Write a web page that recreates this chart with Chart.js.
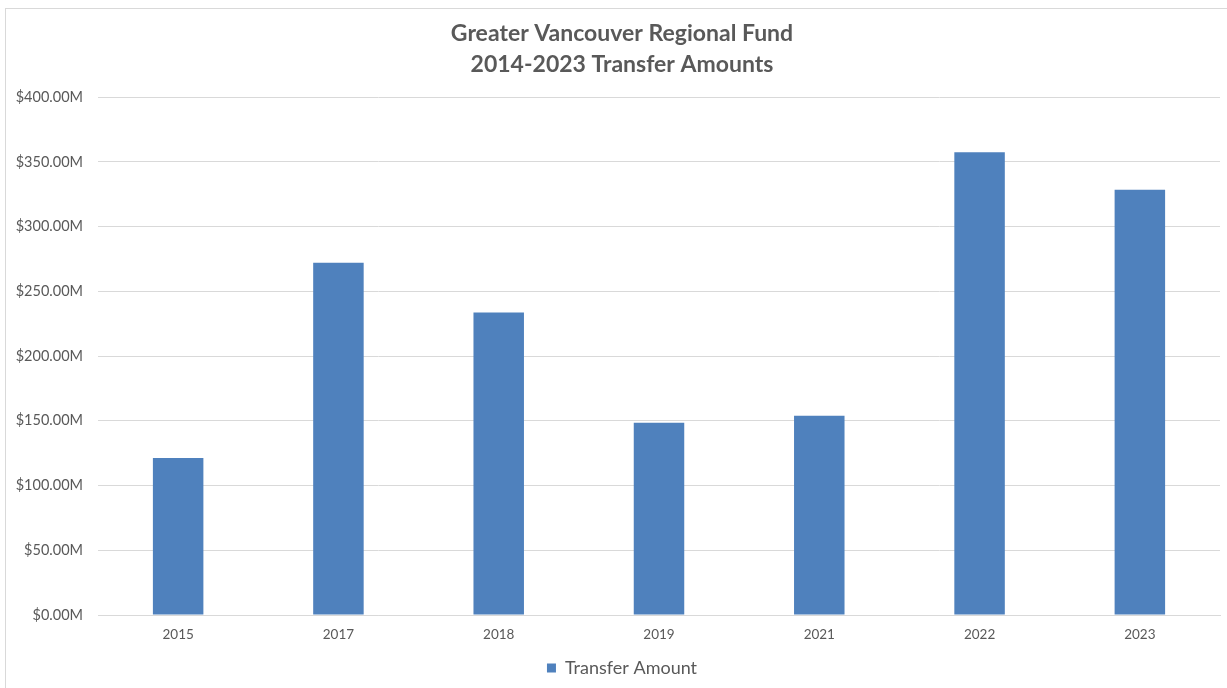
<!DOCTYPE html>
<html>
<head>
<meta charset="utf-8">
<script src="https://cdn.jsdelivr.net/npm/chart.js@4"></script>
<style>
    html, body { margin: 0; padding: 0; background: #fff; overflow: hidden; }
    #frame {
        position: absolute; left: 5px; top: 8px;
        width: 1240px; height: 700px;
        border: 1px solid #d9d9d9;
    }
    #wrap { position: absolute; left: 0; top: 0; width: 1227px; height: 688px; }
</style>
</head>
<body>
<div id="frame"></div>
<div id="wrap"><canvas id="fundChart"></canvas></div>
<script>
// Chart data
const years = ['2015', '2017', '2018', '2019', '2021', '2022', '2023'];
const transferAmounts = [121.3, 272.0, 233.6, 148.4, 153.8, 357.5, 328.4]; // $ millions
const titleLines = ['Greater Vancouver Regional Fund', '2014-2023 Transfer Amounts'];

const textColor = '#595959';
const gridColor = '#d9d9d9';
const barColor = '#4f81bd';

function formatMillions(value) {
    return '$' + Number(value).toFixed(2) + 'M';
}

// let the y tick labels use the space left of the axis box (otherwise they get clipped)
const widenLabelArea = {
    id: 'widenLabelArea',
    afterLayout(chart) {
        chart.scales.y.left = 0;
    }
};

const ctx = document.getElementById('fundChart').getContext('2d');
const fundChart = new Chart(ctx, {
    type: 'bar',
    data: {
        labels: years,
        datasets: [{
            label: 'Transfer Amount',
            data: transferAmounts,
            backgroundColor: barColor,
            borderWidth: 0,
            categoryPercentage: 1,
            barPercentage: 0.315
        }]
    },
    plugins: [widenLabelArea],
    options: {
        responsive: true,
        maintainAspectRatio: false,
        animation: false,
        layout: {
            padding: { left: 24, right: 7, top: 12, bottom: 1 }
        },
        plugins: {
            title: {
                display: true,
                text: titleLines,
                color: textColor,
                font: { family: 'Lato', size: 23, weight: 'bold', lineHeight: 1.35 },
                padding: { top: 6, bottom: 17 }
            },
            legend: {
                position: 'bottom',
                labels: {
                    color: textColor,
                    font: { family: 'Lato', size: 18 },
                    boxWidth: 9,
                    boxHeight: 9,
                    padding: 10
                }
            },
            tooltip: { enabled: false }
        },
        scales: {
            x: {
                afterFit: function(scale) { scale.height = 34; },
                grid: { display: false },
                border: { display: true, color: gridColor, width: 1 },
                ticks: {
                    color: textColor,
                    font: { family: 'Lato', size: 13.5 },
                    padding: 4
                }
            },
            y: {
                min: 0,
                max: 400,
                afterFit: function(scale) { scale.width = 74; },
                grid: { color: gridColor, lineWidth: 1, drawTicks: false },
                border: { display: false },
                ticks: {
                    stepSize: 50,
                    color: textColor,
                    font: { family: 'Lato', size: 14.5 },
                    padding: 15,
                    callback: formatMillions
                }
            }
        }
    }
});
</script>
</body>
</html>
